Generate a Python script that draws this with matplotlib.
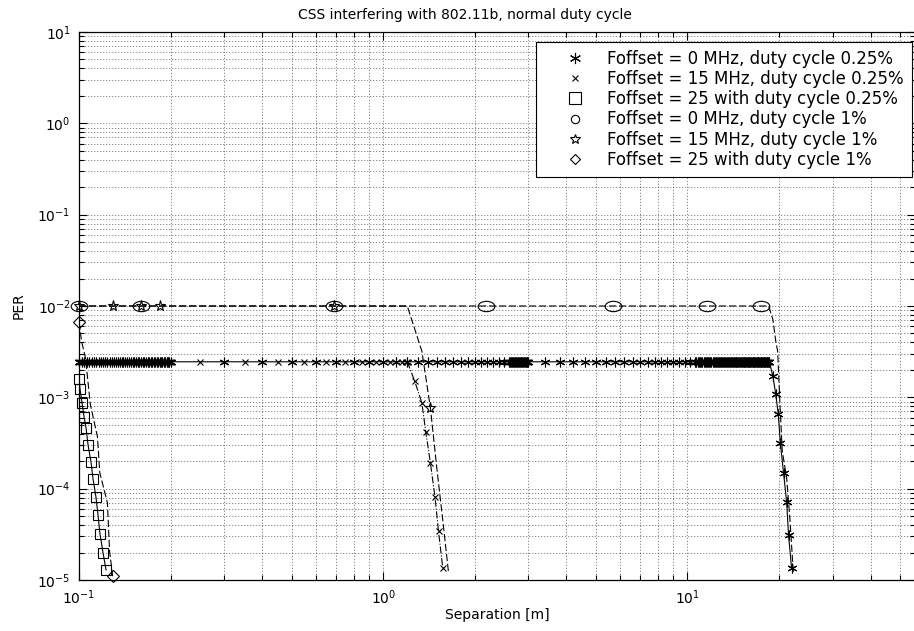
import numpy as np
import matplotlib.pyplot as plt
from matplotlib.path import Path
from matplotlib.ticker import LogLocator, NullFormatter, LogFormatterSciNotation

plt.rcParams['font.family'] = ['DejaVu Sans']
plt.rcParams['mathtext.fontset'] = 'dejavusans'

# flat PER levels before the link breaks down
PER_025 = 2.45e-3
PER_1 = 1.0e-2

# Foffset = 0 MHz, duty cycle 0.25 %  (solid, asterisks)
sep_a = np.concatenate([np.arange(0.1, 0.2001, 0.002),
                        np.arange(0.3, 2.55, 0.1),
                        np.arange(2.6, 3.001, 0.02),
                        np.arange(3.4, 10.3, 0.4),
                        np.arange(10.6, 18.65, 0.1)])
drop_a_x = [19.1, 19.5, 19.9, 20.2, 20.7, 21.2, 21.5, 22.0]
drop_a_y = [1.7e-3, 1.1e-3, 6.5e-4, 3.2e-4, 1.5e-4, 7.1e-5, 3.1e-5, 1.35e-5]

# Foffset = 15 MHz, duty cycle 0.25 %  (x marks)
sep_b = np.concatenate([np.arange(0.1, 0.2001, 0.004),
                        np.arange(0.25, 1.16, 0.1)])
drop_b_x = [1.20, 1.27, 1.34, 1.38, 1.43, 1.48, 1.52, 1.57]
drop_b_y = [2.45e-3, 1.5e-3, 8.7e-4, 4.2e-4, 1.9e-4, 8.1e-5, 3.4e-5, 1.35e-5]

# Foffset = 25, duty cycle 0.25 %  (squares)
sep_c = [0.100, 0.1008, 0.1023, 0.1039, 0.1055, 0.1071, 0.1095,
         0.1112, 0.1137, 0.1155, 0.1172, 0.1199, 0.1227]
per_c = [1.58e-3, 1.23e-3, 8.7e-4, 6.1e-4, 4.6e-4, 3.0e-4, 1.96e-4,
         1.28e-4, 8.1e-5, 5.1e-5, 3.2e-5, 2.0e-5, 1.29e-5]

# Foffset = 0 MHz, duty cycle 1 %  (dashed, circles)
line_d_x = [0.1, 18.5, 19.1, 19.5, 19.8, 20.1, 20.5, 21.2, 21.7, 22.3]
line_d_y = [1e-2, 1e-2, 7.1e-3, 4.2e-3, 3.2e-3, 1.0e-3, 2.6e-4, 1.3e-4, 4.9e-5, 1.2e-5]
mark_d_x = [0.1, 0.16, 0.69, 2.17, 5.7, 11.6, 17.4]

# Foffset = 15 MHz, duty cycle 1 %  (dashed, pentagrams)
line_e_x = [0.1, 1.20, 1.34, 1.43, 1.50, 1.57, 1.64]
line_e_y = [1e-2, 1e-2, 3.2e-3, 7.6e-4, 1.7e-4, 4.5e-5, 1.2e-5]
mark_e_x = [0.1, 0.129, 0.16, 0.185, 0.69, 1.43]
mark_e_y = [1e-2, 1e-2, 1e-2, 1e-2, 1e-2, 7.6e-4]

# Foffset = 25, duty cycle 1 %  (dashed, diamonds)
line_f_x = [0.1, 0.102, 0.105, 0.109, 0.115, 0.117, 0.124, 0.126, 0.129]
line_f_y = [6.6e-3, 4.1e-3, 2.7e-3, 8.3e-4, 3.7e-4, 1.5e-4, 7e-5, 2.1e-5, 1.1e-5]
mark_f_x = [0.1, 0.129]
mark_f_y = [6.6e-3, 1.1e-5]

labels = ['Foffset = 0 MHz, duty cycle 0.25%',
          'Foffset = 15 MHz, duty cycle 0.25%',
          'Foffset = 25 with duty cycle 0.25%',
          'Foffset = 0 MHz, duty cycle 1%',
          'Foffset = 15 MHz, duty cycle 1%',
          'Foffset = 25 with duty cycle 1%']

x_ticks = [0.1, 1, 10]
y_ticks = [1e-5, 1e-4, 1e-3, 1e-2, 1e-1, 1, 10]

# flattened circle for the 1 % / 0 MHz markers
circ = Path.unit_circle()
ellipse = Path(circ.vertices * [1.0, 0.62], circ.codes)
asterisk = (6, 2, 0)

fig = plt.figure(figsize=(9.14, 6.31), dpi=100)
ax = fig.add_axes([79 / 914, 51 / 631, 836 / 914, 548 / 631])
ax.set_xscale('log')
ax.set_yscale('log')

dash = (6.5, 2.5)
k = 'black'
lw = 0.8

# lines
xa = np.concatenate([sep_a, drop_a_x])
ya = np.concatenate([np.full(len(sep_a), PER_025), drop_a_y])
ax.plot(xa, ya, '-', color=k, lw=lw)
ax.plot(drop_b_x, drop_b_y, '-.', color=k, lw=lw)
ax.plot(sep_c, per_c, '-', color=k, lw=lw)
ax.plot(line_d_x, line_d_y, color=k, lw=lw, dashes=dash)
ax.plot(line_e_x, line_e_y, color=k, lw=lw, dashes=dash)
ax.plot(line_f_x, line_f_y, color=k, lw=lw, dashes=dash)

# markers (these carry the legend entries)
mk = dict(color=k, ls='none', clip_on=False, mfc='none', mew=0.8)
ax.plot(xa, ya, marker=asterisk, ms=7, label=labels[0], **mk)
xb = np.concatenate([sep_b, drop_b_x])
yb = np.concatenate([np.full(len(sep_b), PER_025), drop_b_y])
ax.plot(xb, yb, marker='x', ms=4, label=labels[1], **mk)
ax.plot(sep_c, per_c, marker='s', ms=7, label=labels[2], **mk)
ax.plot(mark_d_x, np.full(len(mark_d_x), PER_1), marker=ellipse, ms=12,
        label=labels[3], **mk)
ax.plot(mark_e_x, mark_e_y, marker='*', ms=8, label=labels[4], **mk)
ax.plot(mark_f_x, mark_f_y, marker='D', ms=6, label=labels[5], **mk)

ax.set_xlim(0.1, 56)
ax.set_ylim(1e-5, 10)

ax.set_xticks(x_ticks)
ax.set_yticks(y_ticks)
ax.xaxis.set_major_formatter(LogFormatterSciNotation())
ax.yaxis.set_major_formatter(LogFormatterSciNotation())
ax.xaxis.set_minor_locator(LogLocator(base=10, subs=np.arange(2, 10), numticks=100))
ax.yaxis.set_minor_locator(LogLocator(base=10, subs=np.arange(2, 10), numticks=100))
ax.xaxis.set_minor_formatter(NullFormatter())
ax.yaxis.set_minor_formatter(NullFormatter())

ax.tick_params(which='both', direction='in', top=True, right=True,
               labelsize=10, width=0.8)
ax.tick_params(which='major', length=6, pad=6)
ax.tick_params(which='minor', length=3.5)
for s in ax.spines.values():
    s.set_linewidth(0.9)

ax.grid(True, which='both', color=k, lw=0.6, ls=(0, (0.8, 2.8)))
ax.set_axisbelow(True)

ax.set_title('CSS interfering with 802.11b, normal duty cycle', fontsize=10,
             pad=9, x=0.462)
ax.set_xlabel('Separation [m]', fontsize=10, labelpad=1)
ax.set_ylabel('PER', fontsize=10, labelpad=8)

leg = ax.legend(loc='upper right', bbox_to_anchor=(911.5 / 914, 589 / 631),
                bbox_transform=fig.transFigure, fontsize=12, frameon=True,
                fancybox=False, edgecolor=k, framealpha=1, borderaxespad=0,
                handlelength=3.85, handletextpad=0.0, labelspacing=0.14,
                borderpad=0.45)
leg.get_frame().set_linewidth(0.8)
# smaller symbols inside the legend box
for h, m, s in zip(leg.legend_handles, [asterisk, 'x', 's', 'o', '*', 'D'],
                   [8, 4.5, 8, 6, 7, 5.5]):
    h.set_marker(m)
    h.set_markersize(s)

fig.savefig('out.png', dpi=100)
